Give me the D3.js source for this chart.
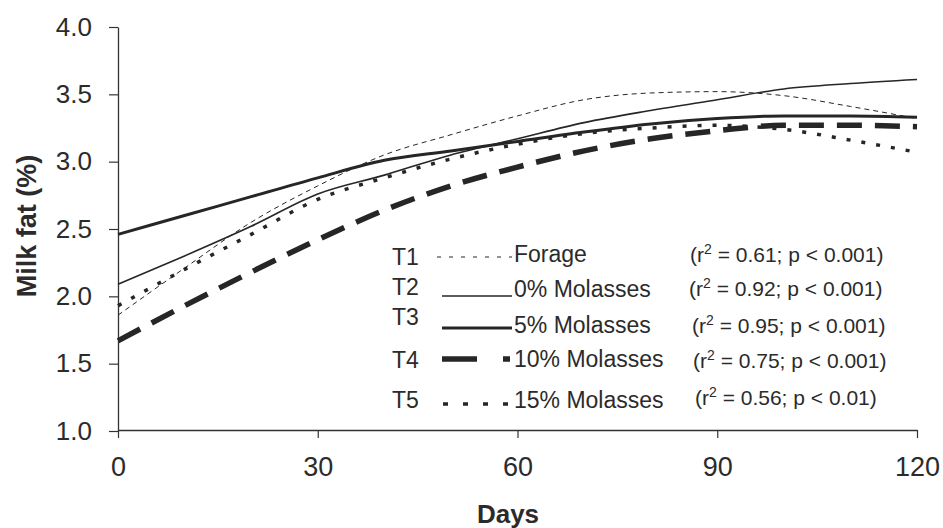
<!DOCTYPE html>
<html>
<head>
<meta charset="utf-8">
<script src="https://cdn.jsdelivr.net/npm/d3@7"></script>
<style>
body{margin:0;background:#fff}
text{font-family:"Liberation Sans",Arial,sans-serif;fill:#2b2b2b}
</style>
</head>
<body>
<script>
////Data
var days = [0,10,20,30,40,50,60,70,80,90,100,110,120]
var t1 = [1.86,2.21,2.55,2.82,3.05,3.20,3.34,3.46,3.51,3.52,3.49,3.41,3.32] //Forage
var t2 = [2.09,2.30,2.52,2.76,2.90,3.05,3.17,3.29,3.38,3.46,3.54,3.58,3.61] //0% molasses
var t3 = [2.46,2.60,2.74,2.88,3.01,3.08,3.15,3.22,3.28,3.32,3.34,3.34,3.33] //5% molasses
var t4 = [1.67,1.93,2.18,2.42,2.64,2.82,2.96,3.08,3.17,3.23,3.27,3.27,3.26] //10% molasses
var t5 = [1.93,2.20,2.46,2.72,2.88,3.02,3.13,3.21,3.25,3.27,3.24,3.16,3.07] //15% molasses

var treatments = ["T1","T2","T3","T4","T5"]
var labels = ["Forage","0% Molasses","5% Molasses","10% Molasses","15% Molasses"]
var r2 = ["0.61","0.92","0.95","0.75","0.56"]
var pvals = ["p < 0.001","p < 0.001","p < 0.001","p < 0.001","p < 0.01"]
var xTicks = [0,30,60,90,120]
var yTicks = [1.0,1.5,2.0,2.5,3.0,3.5,4.0]

//Line styles of each treatment
var styles = [
    {width:1, dash:"5,4", legendDash:"4,8"},
    {width:1.6, dash:null, legendDash:null},
    {width:3, dash:null, legendDash:null},
    {width:5.5, dash:"25,13", legendDash:"35,26,7,40"},
    {width:3.5, dash:"4,11", legendDash:"5,15"}
]

var series = [t1,t2,t3,t4,t5].map(function(vals,i){
    return {name:treatments[i], style:styles[i], points:days.map(function(d,j){return {day:d,value:vals[j]}})}
})

////Creating the svg
var svg = d3.select("body").append("svg").attr("width",943).attr("height",528)

var x = d3.scaleLinear().domain([0,120]).range([118,917])
var y = d3.scaleLinear().domain([1,4]).range([431,27])

///Axes
var xAxis = svg.append("g").attr("transform","translate(0,430)")
    .call(d3.axisBottom(x).tickValues(xTicks).tickSize(8).tickSizeOuter(0).tickPadding(19))
xAxis.selectAll("text").style("font-size","27px")

var yAxis = svg.append("g").attr("transform","translate(118,0)")
    .call(d3.axisLeft(y).tickValues(yTicks).tickFormat(d3.format(".1f")).tickSize(9).tickSizeOuter(0).tickPadding(17))
yAxis.selectAll("text").style("font-size","26px")

svg.selectAll(".domain").attr("stroke","#333").attr("stroke-width",1.3)
svg.selectAll(".tick line").attr("stroke","#333").attr("stroke-width",1.2)
svg.selectAll(".tick text").attr("fill","#2b2b2b")

//Axis titles
svg.append("text").attr("transform","translate(36,226) rotate(-90)")
    .attr("text-anchor","middle").style("font-size","27px").style("font-weight","bold")
    .text("Milk fat (%)")

svg.append("text").attr("x",508).attr("y",523)
    .attr("text-anchor","middle").style("font-size","26px").style("font-weight","bold")
    .text("Days")

///Curves
var line = d3.line()
    .x(function(d){return x(d.day)})
    .y(function(d){return y(d.value)})
    .curve(d3.curveMonotoneX)

svg.selectAll(".curve").data(series).enter().append("path")
    .attr("class","curve")
    .attr("d",function(d){return line(d.points)})
    .attr("fill","none")
    .attr("stroke","#262626")
    .attr("stroke-width",function(d){return d.style.width})
    .attr("stroke-dasharray",function(d){return d.style.dash})

///Legend
var rowT = [265,295,325,368,408] //baselines of the T labels
var rowLabel = [262,297,333,367,408] //baselines of the treatment names
var rowLine = [257,296,328,359,404] //y of the sample lines
var rowR2 = [262,296,333,368,405] //baselines of the r2 texts
var lineStart = [437,442,442,442,443]
var r2Start = [690,689,692,693,695]

var legend = svg.append("g").attr("class","legend")

legend.selectAll(".legT").data(series).enter().append("text")
    .attr("class","legT")
    .attr("x",392).attr("y",function(d,i){return rowT[i]})
    .style("font-size","23px")
    .text(function(d){return d.name})

legend.selectAll(".legLine").data(series).enter().append("line")
    .attr("class","legLine")
    .attr("x1",function(d,i){return lineStart[i]}).attr("x2",512)
    .attr("y1",function(d,i){return rowLine[i]}).attr("y2",function(d,i){return rowLine[i]})
    .attr("stroke","#262626")
    .attr("stroke-width",function(d){return d.style.width})
    .attr("stroke-dasharray",function(d){return d.style.legendDash})

legend.selectAll(".legLabel").data(series).enter().append("text")
    .attr("class","legLabel")
    .attr("x",514).attr("y",function(d,i){return rowLabel[i]})
    .style("font-size","23px")
    .text(function(d,i){return labels[i]})

var r2Text = legend.selectAll(".legR2").data(series).enter().append("text")
    .attr("class","legR2")
    .attr("x",function(d,i){return r2Start[i]}).attr("y",function(d,i){return rowR2[i]})
    .style("font-size","21px")
r2Text.append("tspan").text("(r")
r2Text.append("tspan").attr("dy",-8).style("font-size","14px").text("2")
r2Text.append("tspan").attr("dy",8).text(function(d,i){return " = "+r2[i]+"; "+pvals[i]+")"})
</script>
</body>
</html>
